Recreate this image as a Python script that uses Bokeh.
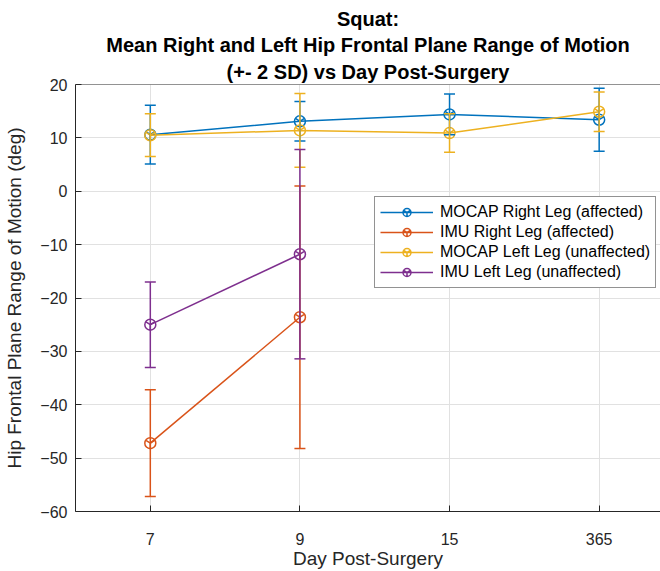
from bokeh.plotting import figure
from bokeh.models import (ColumnDataSource, Whisker, TeeHead, Range1d, FixedTicker,
                          Legend, LegendItem, Span, Title)
from bokeh.embed import file_html
from bokeh.resources import INLINE

# ---- data ----
days = ["7", "9", "15", "365"]
day_pos = [1, 2, 3, 4]

mocap_right_mean = [10.6, 13.1, 14.4, 13.4]
mocap_right_err = [5.5, 3.7, 3.8, 5.9]

imu_right_mean = [-47.2, -23.6]
imu_right_err = [10.0, 24.6]

mocap_left_mean = [10.5, 11.4, 10.9, 14.9]
mocap_left_err = [4.0, 6.9, 3.6, 3.7]

imu_left_mean = [-25.0, -11.8]
imu_left_err = [8.0, 19.6]

y_ticks = [-60, -50, -40, -30, -20, -10, 0, 10, 20]

title_lines = ["Squat:",
               "Mean Right and Left Hip Frontal Plane Range of Motion",
               "(+- 2 SD) vs Day Post-Surgery"]

series = [
    ("MOCAP Right Leg (affected)", day_pos, mocap_right_mean, mocap_right_err, "#0072BD"),
    ("IMU Right Leg (affected)", day_pos[:2], imu_right_mean, imu_right_err, "#D95319"),
    ("MOCAP Left Leg (unaffected)", day_pos, mocap_left_mean, mocap_left_err, "#EDB120"),
    ("IMU Left Leg (unaffected)", day_pos[:2], imu_left_mean, imu_left_err, "#7E2F8E"),
]

FONT = "Liberation Sans"
AX = "#262626"

p = figure(width=660, height=571, output_backend="svg", toolbar_location=None,
           x_range=Range1d(0.5, 4.41), y_range=Range1d(-60, 20),
           min_border_left=75, min_border_right=0, min_border_top=84, min_border_bottom=59)
p.title = None

# titles: first added sits nearest the frame
for i, line in enumerate(reversed(title_lines)):
    p.add_layout(Title(text=line, align="center", text_font=FONT, text_font_size="20px",
                       text_font_style="bold", text_color="#000000",
                       standoff=4 if i == 0 else 2, offset=3), "above")

p.outline_line_color = None
p.background_fill_color = "white"
p.border_fill_color = "white"

# axes
p.xaxis.ticker = FixedTicker(ticks=day_pos)
p.xaxis.major_label_overrides = {pos: lab for pos, lab in zip(day_pos, days)}
p.yaxis.ticker = FixedTicker(ticks=y_ticks)
p.xaxis.axis_label = "Day Post-Surgery"
p.yaxis.axis_label = "Hip Frontal Plane Range of Motion (deg)"
for ax in (p.xaxis, p.yaxis):
    ax.axis_line_color = AX
    ax.axis_line_width = 1
    ax.major_tick_line_color = AX
    ax.major_tick_in = 6
    ax.major_tick_out = 0
    ax.minor_tick_line_color = None
    ax.major_label_text_font = FONT
    ax.major_label_text_font_size = "16px"
    ax.major_label_text_color = AX
    ax.axis_label_text_font = FONT
    ax.axis_label_text_font_size = "19px"
    ax.axis_label_text_font_style = "normal"
    ax.axis_label_text_color = AX
p.xaxis.major_label_standoff = 21
p.xaxis.axis_label_standoff = 0
p.yaxis.major_label_standoff = 8
p.yaxis.axis_label_standoff = 12

p.grid.grid_line_color = "#e1e1e1"
p.grid.grid_line_width = 1

p.add_layout(Span(location=20, dimension="width", line_color=AX, line_width=1))

items = []
for label, xs, mean, err, color in series:
    src = ColumnDataSource(dict(x=xs, y=mean,
                                upper=[m + e for m, e in zip(mean, err)],
                                lower=[m - e for m, e in zip(mean, err)]))
    p.add_layout(Whisker(base="x", upper="upper", lower="lower", source=src,
                         line_color=color, line_width=1.5, level="glyph",
                         upper_head=TeeHead(size=11, line_color=color, line_width=1.5),
                         lower_head=TeeHead(size=11, line_color=color, line_width=1.5)))
    lr = p.line("x", "y", source=src, line_color=color, line_width=1.5)
    # circle with the error-bar stem through it (the stem coincides with the whisker)
    mr = p.scatter("x", "y", source=src, marker="circle_y", size=11, fill_color=None,
                   line_color=color, line_width=1.5)
    items.append(LegendItem(label=label, renderers=[lr, mr]))

legend = Legend(items=items, location=(299, 223), orientation="vertical",
                glyph_width=53, glyph_height=20, label_height=20, label_standoff=7,
                spacing=0, padding=5, margin=0,
                label_text_font=FONT, label_text_font_size="16px", label_text_color="#000000",
                border_line_color=AX, border_line_width=1,
                background_fill_color="white", background_fill_alpha=1)
p.add_layout(legend, "center")

open("out.html", "w").write(file_html(p, INLINE))
